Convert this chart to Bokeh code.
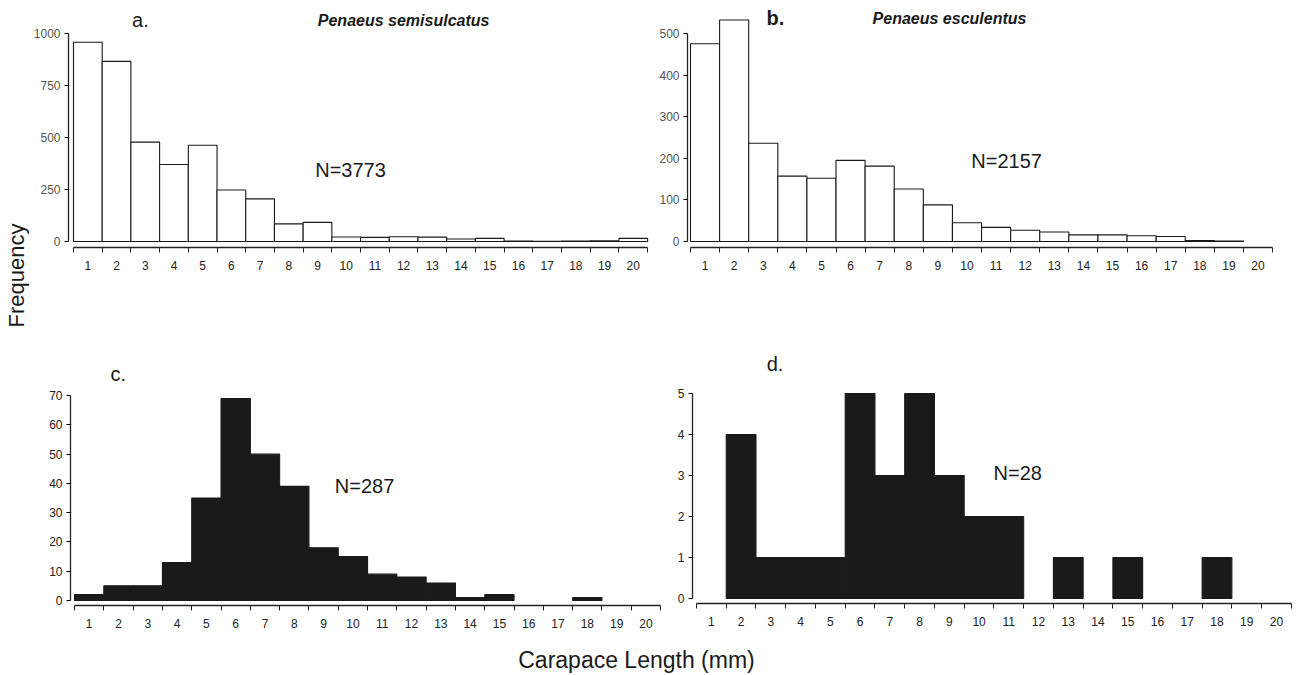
import math
from bokeh.plotting import figure
from bokeh.models import FixedTicker, Range1d, ColumnDataSource
from bokeh.layouts import column, row
from bokeh.embed import file_html
from bokeh.resources import INLINE
from bokeh.core.properties import value

# ---------------- data ----------------
bins = list(range(1, 21))
tick_labels = [str(b) for b in bins]
edges = [b - 0.5 for b in bins] + [20.5]

freq_a = [958, 866, 478, 370, 463, 248, 205, 85, 92, 22, 20, 23, 21, 12, 15, 2, 1, 2, 3, 15]
freq_b = [475, 532, 236, 157, 152, 195, 181, 126, 88, 45, 34, 27, 23, 16, 16, 14, 12, 2, 1, 0]
freq_c = [2, 5, 5, 13, 35, 69, 50, 39, 18, 15, 9, 8, 6, 1, 2, 0, 0, 1, 0, 0]
freq_d = [0, 4, 1, 1, 1, 5, 3, 5, 3, 2, 2, 0, 1, 0, 1, 0, 0, 1, 0, 0]

yticks_a = [0, 250, 500, 750, 1000]
yticks_b = [0, 100, 200, 300, 400, 500]
yticks_c = [0, 10, 20, 30, 40, 50, 60, 70]
yticks_d = [0, 1, 2, 3, 4, 5]

n_labels = ["N=3773", "N=2157", "N=287", "N=28"]
panel_letters = ["a.", "b.", "c.", "d."]
species = ["Penaeus semisulcatus", "Penaeus esculentus"]
y_title = "Frequency"
x_title = "Carapace Length (mm)"

FONT = "Liberation Sans"


def panel(freq, yticks, xr, yr, fw, fh, mbl, mbb, fill, label_col):
    p = figure(frame_width=fw, frame_height=fh, x_range=Range1d(*xr), y_range=Range1d(*yr),
               toolbar_location=None, output_backend="svg",
               min_border_left=mbl, min_border_right=0, min_border_top=0,
               min_border_bottom=mbb)
    p.outline_line_color = None
    p.grid.visible = False
    p.background_fill_color = "white"
    p.border_fill_color = "white"
    lefts = [e for e, f in zip(edges[:-1], freq) if f > 0]
    rights = [e + 1 for e, f in zip(edges[:-1], freq) if f > 0]
    tops = [f for f in freq if f > 0]
    src = ColumnDataSource(dict(left=lefts, right=rights, top=tops, bottom=[0] * len(tops)))
    p.quad(left="left", right="right", top="top", bottom="bottom", source=src,
           fill_color=fill, line_color="#1a1a1a", line_width=1.1)
    # x axis: ticks on bin edges, labels on bin centres
    xa = p.xaxis[0]
    xa.ticker = FixedTicker(ticks=bins, minor_ticks=edges)
    xa.major_label_overrides = {b: t for b, t in zip(bins, tick_labels)}
    xa.bounds = (0.5, 20.5)
    xa.major_tick_line_color = None
    xa.major_tick_out = 5
    xa.major_tick_in = 0
    xa.minor_tick_out = 5
    xa.minor_tick_in = 0
    xa.minor_tick_line_color = "#222222"
    xa.axis_line_color = "#222222"
    xa.axis_line_width = 1.3
    xa.major_label_standoff = 8
    xa.major_label_text_font = FONT
    xa.major_label_text_font_size = "12px"
    xa.major_label_text_color = "#222222"
    # y axis
    ya = p.yaxis[0]
    ya.ticker = FixedTicker(ticks=yticks)
    ya.bounds = (0, yticks[-1])
    ya.major_tick_out = 4
    ya.major_tick_in = 0
    ya.minor_tick_line_color = None
    ya.axis_line_color = "#222222"
    ya.axis_line_width = 1.3
    ya.major_label_standoff = 4
    ya.major_label_text_font = FONT
    ya.major_label_text_font_size = "12px"
    ya.major_label_text_color = label_col
    return p


# ---- top row ----
fa = panel(freq_a, yticks_a, (0.326, 20.6), (-28.8, 1158.7), 582, 247, 38, 103, "white", "#555555")
fb = panel(freq_b, yticks_b, (0.397, 21.39), (-14.4, 579), 611, 247, 37, 103, "white", "#555555")
# ---- bottom row ----
fc = panel(freq_c, yticks_c, (0.363, 20.77), (-1.71, 85.4), 598, 255, 40, 35, "#1a1a1a", "#222222")
fd = panel(freq_d, yticks_d, (0.366, 20.74), (-0.122, 6.05), 606, 253, 24, 37, "#1a1a1a", "#222222")

txt = dict(text_font=value(FONT), text_color="#1a1a1a", text_baseline="middle")

fa.text(x=[2.83], y=[1064], text=[panel_letters[0]], text_align="center", text_font_size="20px", **txt)
fa.text(x=[12.0], y=[1064], text=[species[0]], text_align="center", text_font_size="16px",
        text_font_style="bold italic", **txt)
fa.text(x=[10.15], y=[342], text=[n_labels[0]], text_align="center", text_font_size="20px", **txt)

fb.text(x=[3.42], y=[536], text=[panel_letters[1]], text_align="center", text_font_size="20px",
        text_font_style="bold", **txt)
fb.text(x=[9.4], y=[536], text=[species[1]], text_align="center", text_font_size="16px",
        text_font_style="bold italic", **txt)
fb.text(x=[11.36], y=[194], text=[n_labels[1]], text_align="center", text_font_size="20px", **txt)

fc.text(x=[1.99], y=[77.5], text=[panel_letters[2]], text_align="center", text_font_size="20px", **txt)
fc.text(x=[10.4], y=[39], text=[n_labels[2]], text_align="center", text_font_size="20px", **txt)

fd.text(x=[3.14], y=[5.73], text=[panel_letters[3]], text_align="center", text_font_size="20px", **txt)
fd.text(x=[11.3], y=[3.07], text=[n_labels[3]], text_align="center", text_font_size="20px", **txt)

# ---- left "Frequency" strip ----
fy = figure(width=30, height=640, x_range=Range1d(0, 30), y_range=Range1d(0, 640),
            toolbar_location=None, output_backend="svg", min_border=0)
fy.axis.visible = False
fy.grid.visible = False
fy.outline_line_color = None
fy.text(x=[16], y=[365], text=[y_title], angle=math.pi / 2, text_align="center",
        text_baseline="middle", text_font=value(FONT), text_font_size="22px", text_color="#1a1a1a")

# ---- bottom label strip ----
fx = figure(width=1298, height=34, x_range=Range1d(0, 1298), y_range=Range1d(0, 34),
            toolbar_location=None, output_backend="svg", min_border=0)
fx.axis.visible = False
fx.grid.visible = False
fx.outline_line_color = None
fx.text(x=[636], y=[15], text=[x_title], text_align="center", text_baseline="middle",
        text_font=value(FONT), text_font_size="23px", text_color="#1a1a1a")

layout = column(row(fy, column(row(fa, fb), row(fc, fd))), fx)

open("out.html", "w").write(file_html(layout, INLINE))
